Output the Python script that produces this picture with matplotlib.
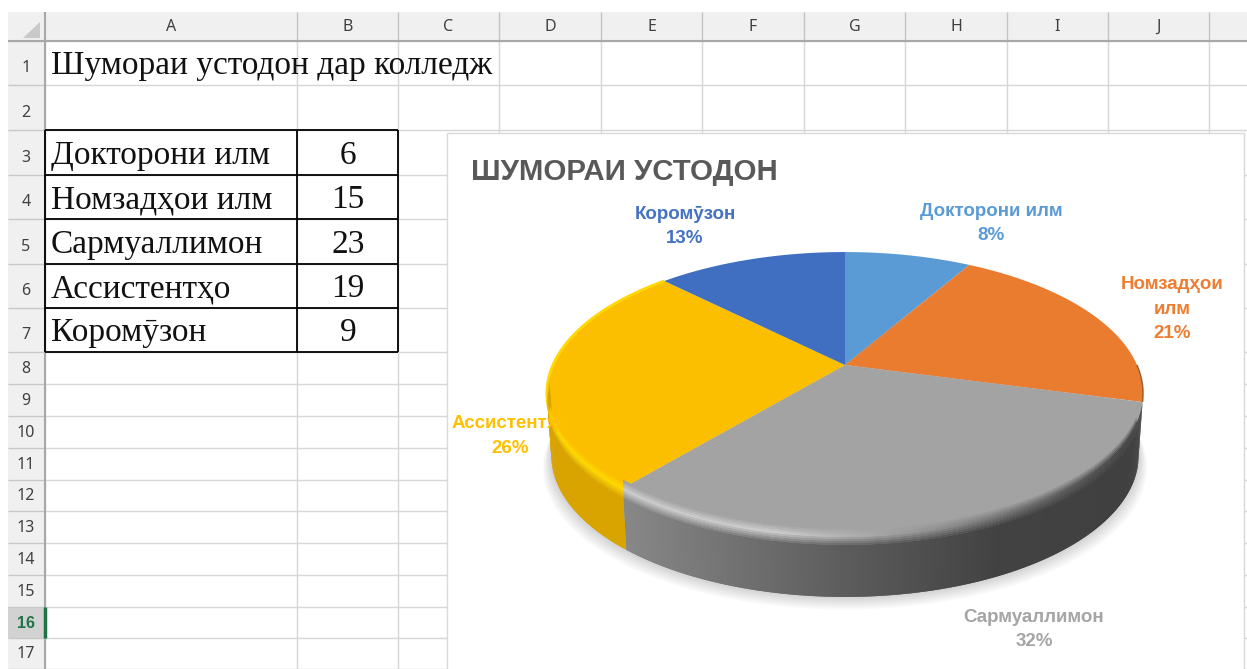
"""Excel sheet screenshot with a 3D pie chart of teaching staff."""

import matplotlib

matplotlib.use("Agg")
import matplotlib.pyplot as plt
import numpy as np
from matplotlib.collections import PolyCollection
from matplotlib.colors import to_rgb
from matplotlib.patches import Polygon, Rectangle

categories = ["Докторони илм", "Номзадҳои илм", "Сармуаллимон", "Ассистентҳо", "Коромӯзон"]
values = [6, 15, 23, 19, 9]
pie_colors = ["#5b9bd5", "#ea7c30", "#a3a3a3", "#fbbf00", "#406fc2"]
label_colors = ["#5b9bd5", "#ed7d31", "#a5a5a5", "#ffc000", "#4472c4"]
chart_labels = ["Докторони илм", "Номзадҳои\nилм", "Сармуаллимон", "Ассистентҳо", "Коромӯзон"]
col_names = ["A", "B", "C", "D", "E", "F", "G", "H", "I", "J"]
sheet_title = "Шумораи устодон дар колледж"
chart_title = "ШУМОРАИ УСТОДОН"

# sheet geometry in screen pixels
col_edges = [45, 297, 398, 499, 601, 702, 804, 905, 1007, 1108, 1209]
row_edges = [41, 85, 130, 175, 219, 264, 308, 352, 384, 416, 448, 480, 511, 543, 575, 607, 638, 669]

# pie projection, fitted to the screenshot
CX, CY = 845, 365
A, B, P = 292, 135.7, 0.2013
DEPTH = 62

SERIF = ["Liberation Serif", "DejaVu Serif"]
SANS = ["Noto Sans", "DejaVu Sans"]
BOLD = ["Liberation Sans", "DejaVu Sans"]


def project(angle, z=0.0):
    """Map clockwise-from-top angles (degrees) onto the tilted disc."""
    rad = np.radians(angle)
    x, y = np.sin(rad), np.cos(rad)
    denom = 1 + P * y
    scale = 1 - 0.015 * max(z, 0) / DEPTH
    return CX + scale * A * x / denom, CY - B * y / denom + z


def wall_color(color, x, z):
    """Shade a wall facet by screen x and by distance from the bevel."""
    top = np.array(to_rgb(color))
    if color == "#a3a3a3":
        g = np.interp(x, [627, 850, 1000, 1143], [0.53, 0.36, 0.26, 0.25])
        h = np.interp(x, [627, 780, 900, 1143], [0.80, 0.80, 0.62, 0.25])
        base, light = np.array([g, g, g]), np.array([h, h, h])
    else:
        base, light = np.array([0.85, 0.64, 0.0]), np.array([1.0, 0.85, 0.0])
    if z < 0:
        return tuple(top + (light - top) * (z + 8) / 8)
    return tuple(light + (base - light) * min(z / 10, 1))


def draw_sheet(ax):
    ax.add_patch(Rectangle((8, 12), 1239, 29, fc="#f0f0f0", ec="none", zorder=0))
    ax.add_patch(Rectangle((8, 12), 37, 657, fc="#f0f0f0", ec="none", zorder=0))
    ax.add_patch(Rectangle((8, 607), 37, 31, fc="#d2d2d2", ec="none", zorder=0))
    ax.add_patch(Polygon([(40, 22), (40, 38), (23, 38)], fc="#c9c9c9", ec="none", zorder=1))

    ax.vlines(col_edges, 41, 669, color="#d6d6d6", lw=1, zorder=1)
    ax.hlines(row_edges, 45, 1247, color="#d6d6d6", lw=1, zorder=1)
    ax.vlines(col_edges[1:], 12, 41, color="#c4c4c4", lw=1, zorder=1)
    ax.hlines(row_edges, 8, 45, color="#c8c8c8", lw=1, zorder=1)
    ax.hlines(41, 8, 1247, color="#a8a8a8", lw=1.5, zorder=2)
    ax.vlines(45, 12, 669, color="#a8a8a8", lw=1.5, zorder=2)
    ax.vlines(45, 607, 638, color="#217346", lw=2.5, zorder=3)

    for i, name in enumerate(col_names):
        ax.text((col_edges[i] + col_edges[i + 1]) / 2, 27, name, family=SANS, fontsize=11.5,
                color="#404040", ha="center", va="center")
    for i in range(len(row_edges) - 1):
        active = i == 15
        height = row_edges[i + 1] - row_edges[i]
        ax.text(26, (row_edges[i] + row_edges[i + 1]) / 2 + 1 + (height - 32) / 3, str(i + 1),
                family=BOLD if active else SANS, fontsize=11.5,
                color="#217346" if active else "#404040", fontweight="bold" if active else "normal",
                ha="center", va="center")

    ax.text(51, 66, sheet_title, family=SERIF, fontsize=24, color="#111111", va="center")

    # bordered table in rows 3-7
    ax.hlines(row_edges[2:8], 45, 398, color="black", lw=1.3, zorder=3)
    ax.vlines([45, 297, 398], row_edges[2], row_edges[7], color="black", lw=1.3, zorder=3)
    for i, (name, val) in enumerate(zip(categories, values)):
        mid = (row_edges[i + 2] + row_edges[i + 3]) / 2 + 3
        ax.text(51, mid, name, family=SERIF, fontsize=24, color="#111111", va="center")
        ax.text(348, mid, str(val), family=SERIF, fontsize=24, color="#111111", ha="center", va="center")


def draw_pie(ax):
    fractions = np.array(values) / sum(values)
    edges = np.concatenate([[0], np.cumsum(fractions) * 360])

    # soft shadow under the disc
    ring = np.linspace(0, 360, 361)
    for grow in np.arange(14, 0, -2):
        x, y = project(ring, DEPTH)
        x = CX + (x - CX) * (1 + grow / 500)
        y = y + grow * 0.9
        ax.fill(x, y, color="#000000", alpha=0.022, ec="none", zorder=5)

    # top surface
    for start, stop, color in zip(edges[:-1], edges[1:], pie_colors):
        x, y = project(np.linspace(start, stop, 200))
        ax.fill(np.r_[CX, x], np.r_[CY, y], color=color, ec="none", zorder=6)

    # bright rim on the yellow slice, dark rim at the end of the orange one
    x, y = project(np.linspace(edges[3], edges[4], 200))
    ax.plot(x, y, color="#ffd800", lw=2, zorder=7, solid_capstyle="butt")
    x, y = project(np.linspace(edges[2] - 15, edges[2], 60))
    ax.plot(x, y, color="#6e3c14", lw=1, alpha=0.7, zorder=7, solid_capstyle="butt")

    # side wall and bevel, thin overlapping facets over the front of the disc
    polys, colors = [], []
    bands = [-8, -6, -4, -2, 0, 2, 4, 6, 8, 10, DEPTH]
    for start, stop, color in zip(edges[2:4], edges[3:5], pie_colors[2:4]):
        for a in np.arange(start, min(stop, 265), 0.5):
            xs, _ = project(a + 0.25)
            end = min(a + 1.0, stop)
            for z0, z1 in zip(bands[:-1], bands[1:]):
                if z0 < 0 and (a < 113 or a > 250):
                    continue
                x0, y0 = project(a, z0)
                x1, y1 = project(end, z0)
                x2, y2 = project(end, z1)
                x3, y3 = project(a, z1)
                polys.append([(x0, y0), (x1, y1), (x2, y2), (x3, y3)])
                colors.append(wall_color(color, xs, z0))
    ax.add_collection(PolyCollection(polys[::-1], facecolors=colors[::-1], edgecolors="none", zorder=8))

    # data labels, Excel rounds half up
    spots = [(991, 223.5), (1172, 309), (1034, 629.5), (510, 436), (685, 226.5)]
    for name, frac, color, (lx, ly) in zip(chart_labels, fractions, label_colors, spots):
        pct = int(frac * 100 + 0.5)
        ax.text(lx, ly, f"{name}\n{pct}%", family=BOLD, fontsize=13.5, fontweight="bold", color=color,
                ha="center", va="center", linespacing=1.6, zorder=9)


fig = plt.figure(figsize=(12.47, 6.69), dpi=100)
ax = fig.add_axes([0, 0, 1, 1])
ax.set_xlim(0, 1247)
ax.set_ylim(669, 0)
ax.axis("off")

draw_sheet(ax)

# chart area sits over the cells
ax.add_patch(Rectangle((447, 133), 797, 540, fc="white", ec="#d9d9d9", lw=1, zorder=4))
ax.text(471, 172, chart_title, family=BOLD, fontsize=21.2, fontweight="bold", color="#595959",
        va="center", zorder=9)
draw_pie(ax)

fig.savefig("out.png", dpi=100)
